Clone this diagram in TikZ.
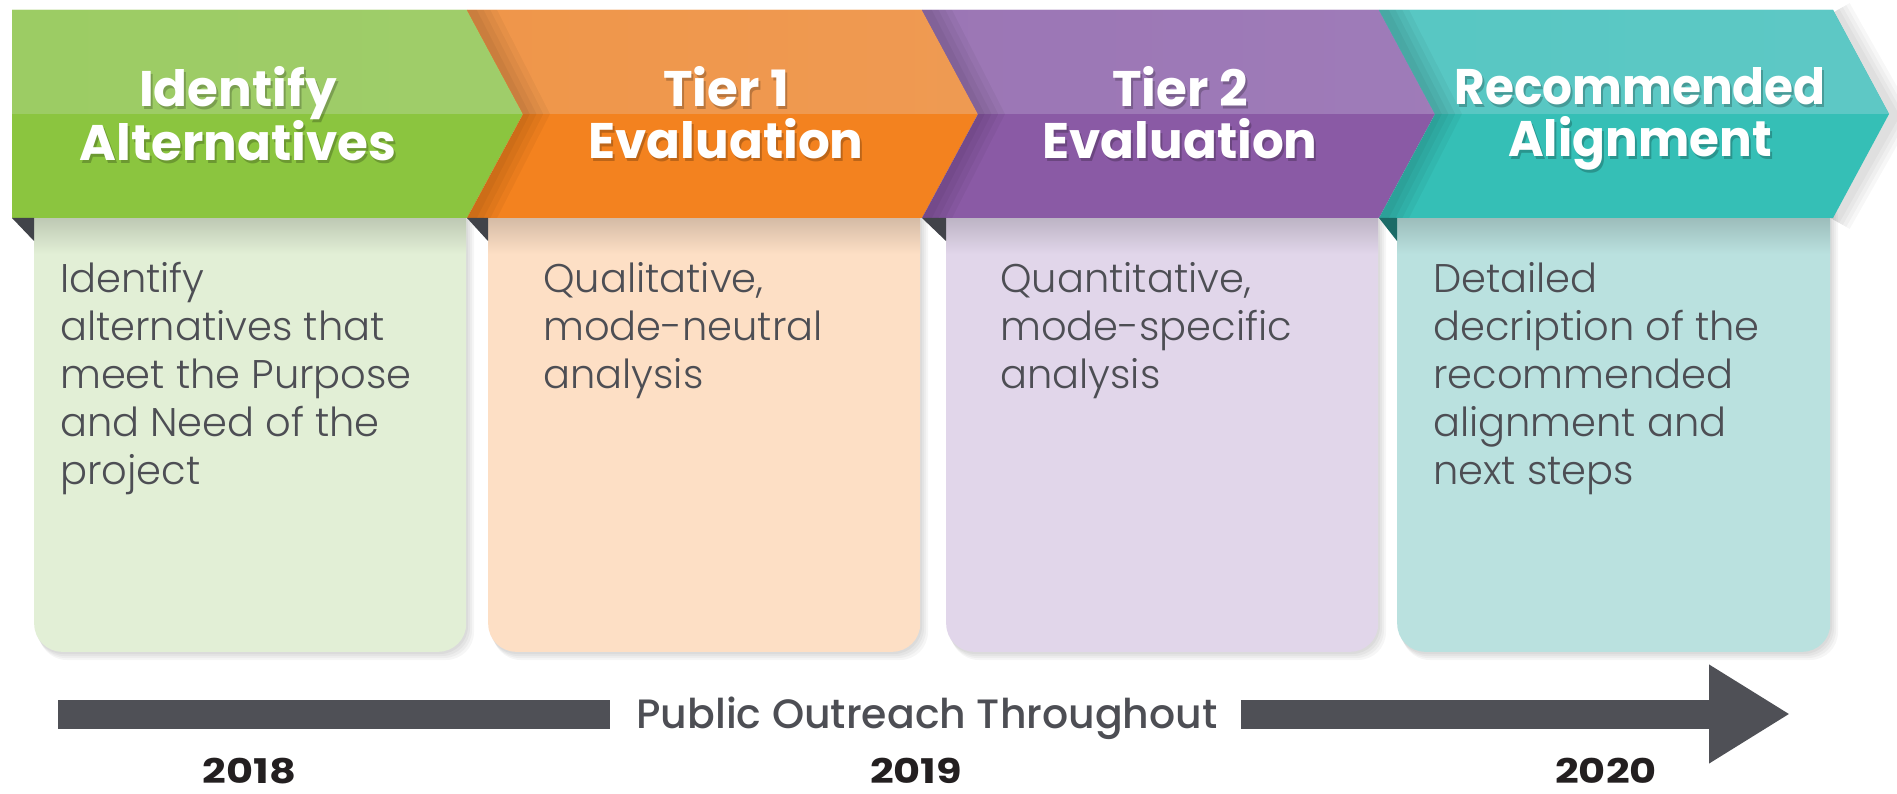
\documentclass[tikz,border=0pt]{standalone}
\usepackage{fontspec}
\usepackage{graphicx}
\setmainfont{Poppins}
\newfontfamily\lightfont{Poppins Light}
\newfontfamily\medfont{Poppins Medium}
\usetikzlibrary{arrows.meta}
\definecolor{gB}{HTML}{8BC53F}
\definecolor{oB}{HTML}{F3821F}
\definecolor{pB}{HTML}{8A5AA5}
\definecolor{tB}{HTML}{35BFB6}
\definecolor{gC}{HTML}{E2EFD6}
\definecolor{oC}{HTML}{FDDFC5}
\definecolor{pC}{HTML}{E1D6EA}
\definecolor{tC}{HTML}{BAE1DF}
\definecolor{hl}{HTML}{E0E6F5}
\definecolor{fold}{HTML}{414349}
\definecolor{tfold}{HTML}{1B6B67}
\definecolor{bodyc}{HTML}{4D4E54}
\definecolor{barc}{HTML}{4F5056}
\definecolor{yearc}{HTML}{231F20}
\tikzset{
  card/.style={rounded corners=28pt, minimum width=#1, minimum height=470pt, anchor=south west, inner sep=0pt, draw=none},
  ttl/.style={font=\fontsize{50}{52}\selectfont\bfseries, text=white, align=center, anchor=north, inner sep=0pt},
  ttlsh/.style={ttl, text=black, opacity=0.22},
  bodyt/.style={font=\lightfont\fontsize{40}{48}\selectfont, text=bodyc, align=left, anchor=north west, inner sep=0pt},
  yeart/.style={font=\bfseries\fontsize{34}{36}\selectfont, text=yearc, anchor=base, inner sep=0pt},
  barline/.style={draw=barc, line width=29pt},
}
\begin{document}
\begin{tikzpicture}[x=1pt,y=-1pt]
\useasboundingbox (0,0) rectangle (1897,794);
\fill[white] (0,0) rectangle (1897,794);
% card shadows
\foreach \a/\b in {34/466, 488/920, 946/1378, 1397/1830}{
  \foreach \o in {2,4,6,8}
    \fill[black, opacity=0.035, rounded corners=28pt] ({\a+\o*0.6},190) rectangle ({\b+\o},{652+\o});
}
% cards
\node[card=432pt, fill=gC] (c1) at (34,652) {};
\node[card=432pt, fill=oC] (c2) at (488,652) {};
\node[card=432pt, fill=pC] (c3) at (946,652) {};
\node[card=433pt, fill=tC] (c4) at (1397,652) {};
% inner top shadows
\foreach \a/\b/\c in {34/466/gC, 488/920/oC, 946/1378/pC, 1397/1830/tC}{
  \shade[top color=\c!84!black, bottom color=\c] (\a,218) rectangle (\b,254);
}
% teal drop shadow
\foreach \w in {36,28,20,12}
  \draw[black, opacity=0.03, line width=\w pt, line join=round] (1834,12) -- (1893,116) -- (1834,220);
% chevrons
\foreach \L/\R/\c/\n in {12/467/gB/0, 467/922/oB/1, 922/1379/pB/1, 1379/1833/tB/1}{
  \begin{scope}
    \clip (\L,10) -- (\R,10) -- ({\R+56},114) -- (\R,218) -- (\L,218) -- ({\L+\n*56},114) -- cycle;
    \fill[\c] (\L,0) rectangle ({\R+60},220);
    \shade[left color=\c!80!hl, middle color=\c!52!hl, right color=\c!76!hl] (\L,10) rectangle ({\R+56},114);
    \ifnum\n=1
      \foreach \w in {48,36,24,12}
        \draw[black, opacity=0.04, line width=\w pt] (\L,4) -- ({\L+56},114) -- (\L,224);
    \fi
  \end{scope}
}
% folds
\fill[fold] (12,218) -- (34,218) -- (34,241) -- cycle;
\fill[fold] (467,218) -- (488,218) -- (488,241) -- cycle;
\fill[fold] (922,218) -- (946,218) -- (946,241) -- cycle;
\fill[tfold] (1379,218) -- (1397,218) -- (1397,241) -- cycle;
% titles
\node[ttlsh] (h1s) at (240,69) {\rule{0pt}{38pt}Identify\\Alternatives};
\node[ttl] (h1) at (238,66) {\rule{0pt}{38pt}Identify\\Alternatives};
\node[ttlsh] (h2s) at (728,69) {\rule{0pt}{38pt}Tier 1\\Evaluation};
\node[ttl] (h2) at (726,66) {\rule{0pt}{38pt}Tier 1\\Evaluation};
\node[ttlsh] (h3s) at (1182,69) {\rule{0pt}{38pt}Tier 2\\Evaluation};
\node[ttl] (h3) at (1180,66) {\rule{0pt}{38pt}Tier 2\\Evaluation};
\node[ttlsh] (h4s) at (1642,69) {\rule{0pt}{38pt}\scalebox{0.94}[1]{Recommended}\\\scalebox{0.97}[1]{Alignment}};
\node[ttl] (h4) at (1640,66) {\rule{0pt}{38pt}\scalebox{0.94}[1]{Recommended}\\\scalebox{0.97}[1]{Alignment}};
% card texts
\node[bodyt] (d1) at (60,262) {\rule{0pt}{30pt}Identify\\alternatives that\\meet the Purpose\\and Need of the\\project};
\node[bodyt] (d2) at (543,262) {\rule{0pt}{30pt}Qualitative,\\mode-neutral\\analysis};
\node[bodyt] (d3) at (1000,262) {\rule{0pt}{30pt}Quantitative,\\mode-specific\\analysis};
\node[bodyt] (d4) at (1433,262) {\rule{0pt}{30pt}Detailed\\decription of the\\recommended\\alignment and\\next steps};
% bottom timeline
\node[font=\medfont\fontsize{41}{43}\selectfont, text=bodyc, inner sep=0pt, anchor=base] (pub) at (927,728) {Public Outreach Throughout};
\coordinate (a0) at (58,714);
\coordinate (a1) at (1790,714);
\coordinate (pw) at ([xshift=-26pt]pub.west);
\coordinate (pe) at ([xshift=23pt]pub.east);
\draw[barline] (a0) -- (pw |- a0);
\draw[barline, -{Triangle[length=81pt,width=93pt]}] (pe |- a1) -- (a1);
% years
\node[yeart] (y1) at (249.5,783) {\scalebox{1.22}[1]{2018}};
\node[yeart] (y2) at (916,783) {\scalebox{1.22}[1]{2019}};
\node[yeart] (y3) at (1606,783) {\scalebox{1.22}[1]{2020}};
\end{tikzpicture}
\end{document}
